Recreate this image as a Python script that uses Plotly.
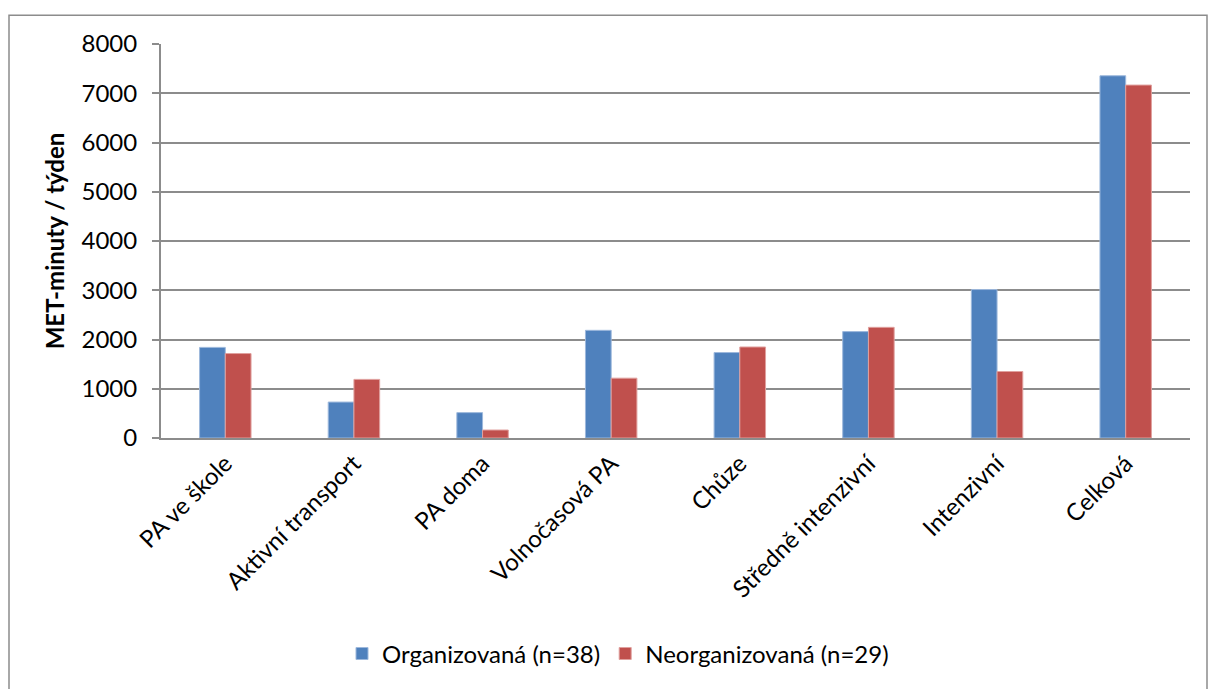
import plotly.graph_objects as go

categories = ["PA ve škole", "Aktivní transport", "PA doma", "Volnočasová PA",
              "Chůze", "Středně intenzivní", "Intenzivní", "Celková"]
organizovana = [1840, 730, 515, 2186, 1735, 2160, 3014, 7355]
neorganizovana = [1715, 1190, 162, 1215, 1848, 2247, 1350, 7166]
y_ticks = [0, 1000, 2000, 3000, 4000, 5000, 6000, 7000, 8000]

FONT = "Lato"
FS = 24
GRID = "#8c8c8c"

fig = go.Figure()
fig.add_trace(go.Bar(
    x=categories, y=organizovana, name="Organizovaná (n=38)",
    marker=dict(color="#4F81BD", line=dict(color="#9db8dc", width=1)),
))
fig.add_trace(go.Bar(
    x=categories, y=neorganizovana, name="Neorganizovaná (n=29)",
    marker=dict(color="#C0504D", line=dict(color="#e0a09e", width=1)),
))

L, R, T, B = 161, 18, 44, 249
W, H = 1208, 689
pw, ph = W - L - R, H - T - B

def px_x(p):
    return (p - L) / pw

def px_y(p):
    return (H - B - p) / ph

fig.update_layout(
    width=W, height=H,
    margin=dict(l=L, r=R, t=T, b=B),
    paper_bgcolor="white", plot_bgcolor="white",
    barmode="group", bargap=0.6, bargroupgap=0,
    font=dict(family=FONT, size=FS, color="#000000"),
    showlegend=True,
    legend=dict(orientation="h", x=px_x(618), xanchor="center",
                y=px_y(657), yanchor="middle",
                font=dict(family=FONT, size=FS, color="#000000"),
                itemwidth=30, tracegroupgap=0, bgcolor="rgba(0,0,0,0)"),
    xaxis=dict(
        type="category", tickangle=-45, showgrid=False,
        showline=True, linecolor=GRID, linewidth=2,
        ticks="", tickfont=dict(family=FONT, size=FS),
    ),
    yaxis=dict(
        range=[0, 8000], tickvals=y_ticks, ticktext=[str(v) for v in y_ticks],
        showgrid=True, gridcolor=GRID, gridwidth=2,
        showline=True, linecolor=GRID, linewidth=2,
        ticks="outside", ticklen=7, tickcolor=GRID, tickwidth=2,
        ticklabelstandoff=10,
        tickfont=dict(family=FONT, size=FS),
        zeroline=False,
        title=dict(text="<b>MET-minuty / týden</b>", standoff=10,
                   font=dict(family=FONT, size=FS)),
    ),
    shapes=[dict(type="rect", xref="paper", yref="paper",
                 x0=px_x(9), x1=px_x(1207), y0=px_y(700), y1=px_y(15),
                 line=dict(color="#8c8c8c", width=1.5), fillcolor="rgba(0,0,0,0)",
                 layer="below")],
)

fig.write_html("out.html")
